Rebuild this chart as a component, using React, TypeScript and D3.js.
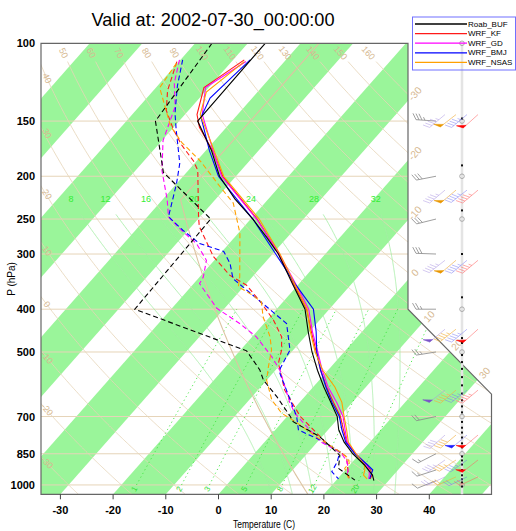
import React from 'react';
import * as d3 from 'd3';

// ---- Roab (observed) sounding, hPa / deg C ----
const roabP = [100, 150, 175, 200, 225, 250, 275, 300, 350, 400, 450, 500, 550, 600, 650, 700, 750, 800, 850, 900, 950, 978];
const roabT = [-66.7, -66.5, -58.9, -53.1, -46.4, -39.6, -33.9, -28.9, -21.3, -14.6, -10.2, -6.1, -2.0, 2.0, 5.9, 9.5, 12.0, 15.1, 18.7, 22.7, 26.0, 27.2];
const roabTdP = [100, 150, 196, 250, 400, 497, 549, 579, 631, 700, 719, 778, 857, 917, 975];
const roabTd = [-76.8, -74.5, -64.4, -47.6, -46.9, -18.7, -13.0, -10.6, -5.3, 0.6, 2.0, 9.6, 16.5, 18.4, 23.5];

// ---- model temperatures: upper part per model, lower part on shared levels ----
const modelLowP = [175, 200, 250, 300, 350, 400, 450, 500, 550, 600, 650, 700, 750, 800, 850, 900, 925, 950, 969];
const kfTopP = [109, 126, 145, 155];
const kfTopT = [-67.9, -70.9, -67.7, -65.1];
const kfLowT = [-58.7, -52.5, -38.8, -28.8, -21.1, -14.3, -9.6, -5.3, -1.4, 2.5, 6.4, 10.1, 12.9, 15.6, 19.2, 23.2, 24.8, 25.9, 26.2];
const gdTopP = [110, 126, 145];
const gdTopT = [-67.3, -70.6, -66.7];
const gdLowT = [-58.6, -52.7, -38.9, -28.7, -20.7, -13.9, -9.4, -5.0, -1.1, 2.8, 7.0, 10.6, 13.2, 15.7, 19.3, 23.1, 24.5, 25.4, 25.9];
const bmjTopP = [109, 133, 147];
const bmjTopT = [-66.8, -68.0, -66.5];
const bmjLowT = [-59.3, -53.3, -39.6, -29.4, -20.8, -13.0, -8.7, -5.2, -1.4, 2.4, 6.1, 9.9, 12.6, 15.4, 19.1, 23.3, 25.2, 25.7, 26.1];
const nsasTopP = [110, 129, 145];
const nsasTopT = [-67.6, -69.7, -67.1];
const nsasLowT = [-58.4, -52.3, -38.4, -28.6, -20.9, -14.2, -9.8, -5.5, -1.0, 4.1, 8.0, 10.8, 13.5, 15.9, 19.3, 22.7, 23.7, 24.3, 25.6];

// ---- model dew points ----
const kfTdP = [110, 128, 142, 157, 170, 185, 194, 247, 260, 304, 335, 353, 388, 423, 462, 495, 530, 610, 700, 805, 863, 941, 966];
const kfTd = [-80.4, -77.3, -74.2, -69.6, -65.5, -60.5, -58.2, -50.3, -48.5, -40.8, -34.6, -29.7, -23.8, -18.8, -14.4, -12.2, -10.6, -4.9, 2.5, 12.0, 18.0, 21.1, 22.1];
const nsasTdP = [111, 126, 154, 168, 185, 211, 230, 269, 338, 356, 371, 385, 416, 462, 495, 540, 579, 642, 688, 719, 784, 841, 870, 893, 917, 966];
const nsasTd = [-80.2, -79.3, -70.8, -65.8, -59.2, -51.3, -46.0, -39.7, -32.4, -31.0, -27.1, -24.1, -21.3, -16.6, -14.1, -11.9, -10.0, -5.7, -1.6, 2.4, 9.6, 15.9, 18.6, 19.6, 19.6, 22.0];
const bmjTdP = [109, 125, 144, 157, 187, 208, 247, 265, 284, 296, 315, 341, 398, 431, 495, 544, 559, 653, 700, 751, 791, 841, 887, 933, 969];
const bmjTd = [-79.6, -76.2, -72.1, -69.1, -62.8, -60.0, -56.0, -51.0, -45.6, -39.7, -36.5, -33.4, -21.7, -15.7, -10.6, -9.4, -8.6, -1.4, 1.8, 4.4, 10.2, 15.9, 17.1, 17.7, 20.2];
const gdTdP = [109, 123, 139, 166, 194, 226, 247, 265, 284, 310, 338, 350, 398, 431, 462, 512, 549, 579, 653, 688, 798, 848, 886, 917, 958];
const gdTd = [-80.2, -77.3, -73.2, -69.8, -65.0, -59.1, -56.0, -51.3, -46.2, -41.5, -39.3, -38.9, -31.5, -24.6, -19.2, -13.0, -9.2, -6.9, -1.7, 0.9, 10.5, 16.5, 18.9, 20.3, 21.4];

// ---- winds ----
const roabWindP = [150, 200, 250, 300, 400, 500, 700, 850, 925, 978];
const roabWindDir = [274, 259, 256, 272, 270, 261, 258, 243, 252, 248];
const roabWindSpd = [35, 30, 30, 30, 25, 25, 20, 15, 15, 10];
const modelWindP = [145, 215, 310, 444, 610, 771, 878, 959];
const gdWindDir = [230, 230, 232, 230, 232, 228, 235, 245];
const gdWindSpd = [45, 45, 45, 50, 50, 40, 35, 20];
const nsasWindDir = [232, 230, 230, 232, 230, 230, 236, 246];
const nsasWindSpd = [50, 50, 50, 45, 45, 40, 35, 20];
const bmjWindDir = [230, 232, 230, 230, 232, 230, 234, 244];
const bmjWindSpd = [45, 45, 45, 45, 45, 50, 35, 20];
const kfWindDir = [228, 230, 230, 228, 230, 230, 232, 245];
const kfWindSpd = [50, 45, 45, 50, 45, 50, 50, 20];
const levelDotP = [148, 189, 239, 300, 376, 465, 477, 508, 527, 546, 570, 595, 621, 643, 664, 685, 720, 742, 761, 781, 805, 822, 862, 880, 899, 925, 951, 971, 987, 1008];
const levelRingP = [100, 150, 200, 250, 400, 500, 700, 850, 1000];

// ---- background ----
const pTicks = [100, 150, 200, 250, 300, 400, 500, 700, 850, 1000];
const tTicks = [-30, -20, -10, 0, 10, 20, 30, 40];
const dryThetas = d3.range(-30, 161, 10);
const moistThetaW = [8, 12, 16, 20, 24, 28, 32];
const mixRatios = [1, 2, 3, 5, 8, 12, 20];
const isoLabels = [-30, -20, -10, 0, 10, 20, 30];

const legendNames = ['Roab_BUF', 'WRF_KF', 'WRF_GD', 'WRF_BMJ', 'WRF_NSAS'];
const legendColors = ['#000000', '#ff1a1a', '#ff00ff', '#0000ff', '#ffa000'];

const Y0 = 43.3, Y1 = 494.3;
const yS = d3.scaleLog().domain([100, 1050]).range([Y0, Y1]);
const tS = d3.scaleLinear().domain([-30, 40]).range([60.4, 429.3]);
const SKEW = 0.883;
const xOf = (t: number, p: number) => tS(t) + SKEW * (Y1 - yS(p));

const XL = 41, XR = 408, XR2 = 491.5;
const yDiagTop = yS(400), yDiagBot = yS(623);
const frame: [number, number][] = [[XL, Y0], [XR, Y0], [XR, yDiagTop], [XR2, yDiagBot], [XR2, Y1], [XL, Y1]];

const sLine = d3.line<[number, number]>().x(d => xOf(d[1], d[0])).y(d => yS(d[0]));
const zip = (p: number[], t: number[]) => p.map((v, i) => [v, t[i]] as [number, number]);

const dryT = (th: number, p: number) => (th + 273.15) * Math.pow(p / 1000, 0.2857) - 273.15;
const stdT = (p: number) => (p > 226.32 ? 288.15 * Math.pow(p / 1013.25, 0.190263) - 273.15 : -56.5);
const mixTd = (w: number, p: number) => {
  const e = (w * p) / (622 + w);
  const l = Math.log(e / 6.112);
  return (243.5 * l) / (17.67 - l);
};
const dTdp = (T: number, p: number) => {
  const tc = T - 273.15;
  const es = 6.112 * Math.exp((17.67 * tc) / (tc + 243.5));
  const rs = (0.622 * es) / (p - es);
  const Lv = 2.501e6, Rd = 287.04, Cp = 1005.7;
  return ((Rd * T + Lv * rs) / p) / (Cp + (Lv * Lv * rs * 0.622) / (Rd * T * T));
};
const moistCurve = (tw: number) => {
  const up: [number, number][] = [];
  let T = tw + 273.15;
  for (let p = 1000; p >= 220; p -= 2) {
    up.push([p, T - 273.15]);
    const k1 = dTdp(T, p);
    const k2 = dTdp(T - 2 * k1, p - 2);
    T -= (k1 + k2);
  }
  const down: [number, number][] = [];
  T = tw + 273.15;
  for (let p = 1000; p <= 1050; p += 2) {
    const k1 = dTdp(T, p);
    const k2 = dTdp(T + 2 * k1, p + 2);
    T += (k1 + k2);
    down.push([p + 2, T - 273.15]);
  }
  return down.reverse().concat(up);
};

const TAN = '#e6d4b8';
const TANTXT = '#d6b890';

function barb(x: number, y: number, dir: number, spd: number) {
  const L = 20;
  const a = (dir * Math.PI) / 180;
  const dx = Math.sin(a), dy = -Math.cos(a);
  const nx = -dy, ny = dx;
  const fx = 0.87 * nx + 0.5 * dx, fy = 0.87 * ny + 0.5 * dy;
  const tx = x + dx * L, ty = y + dy * L;
  let lines = `M${x},${y}L${tx},${ty}`;
  let tris = '';
  let s = Math.round(spd / 5) * 5;
  let pos = 0;
  while (s >= 50) {
    const bx = tx - dx * pos, by = ty - dy * pos;
    const ex = tx - dx * (pos + 4), ey = ty - dy * (pos + 4);
    tris += `M${bx},${by}L${bx + fx * 7},${by + fy * 7}L${ex},${ey}Z`;
    pos += 5;
    s -= 50;
  }
  while (s >= 10) {
    const bx = tx - dx * pos, by = ty - dy * pos;
    lines += `M${bx},${by}L${bx + fx * 7},${by + fy * 7}`;
    pos += 3;
    s -= 10;
  }
  if (s >= 5) {
    const bx = tx - dx * pos, by = ty - dy * pos;
    lines += `M${bx},${by}L${bx + fx * 3.5},${by + fy * 3.5}`;
  }
  return { lines, tris };
}

function Barbs({ px, ps, dirs, spds, line, fill, op }: { px: number; ps: number[]; dirs: number[]; spds: number[]; line: string; fill: string; op: number }) {
  return (
    <g>
      {ps.map((p, i) => {
        const b = barb(px, yS(p), dirs[i], spds[i]);
        return (
          <g key={i}>
            <path d={b.lines} stroke={line} strokeOpacity={op} strokeWidth={0.9} fill="none" />
            {b.tris && <path d={b.tris} fill={fill} stroke={fill} strokeWidth={0.5} />}
          </g>
        );
      })}
    </g>
  );
}

const labelAngle = (f: (p: number) => number, p: number) => {
  const p2 = p * 1.04;
  return (Math.atan2(yS(p2) - yS(p), xOf(f(p2), p2) - xOf(f(p), p)) * 180) / Math.PI;
};

export default function App() {
  const pts = frame.map(d => d.join(',')).join(' ');
  const dryPs = d3.range(1050, 109, -5);
  const topP = yS.invert(53);
  const isoAngle = (Math.atan2(-1, SKEW) * 180) / Math.PI;

  const isoPos = (t: number) => {
    let y = Y1 - (XR - tS(t)) / SKEW;
    let x = XR;
    if (y > yDiagTop) {
      const k = (XR2 - XR) / (yDiagBot - yDiagTop);
      y = (tS(t) + SKEW * Y1 - XR + k * yDiagTop) / (SKEW + k);
      x = XR + k * (y - yDiagTop);
    }
    return [x + 7, y - 7];
  };

  const series = [
    { c: legendColors[1], t: zip(kfTopP.concat(modelLowP), kfTopT.concat(kfLowT)), d: zip(kfTdP, kfTd) },
    { c: legendColors[2], t: zip(gdTopP.concat(modelLowP), gdTopT.concat(gdLowT)), d: zip(gdTdP, gdTd) },
    { c: legendColors[3], t: zip(bmjTopP.concat(modelLowP), bmjTopT.concat(bmjLowT)), d: zip(bmjTdP, bmjTd) },
    { c: legendColors[4], t: zip(nsasTopP.concat(modelLowP), nsasTopT.concat(nsasLowT)), d: zip(nsasTdP, nsasTd) },
    { c: legendColors[0], t: zip(roabP, roabT), d: zip(roabTdP, roabTd) },
  ];

  return (
    <svg width={516} height={531} style={{ position: 'absolute', left: 0, top: 0 }} fontFamily="Helvetica, Arial, 'Liberation Sans', sans-serif">
      <defs>
        <clipPath id="plotClip">
          <polygon points={pts} />
        </clipPath>
      </defs>
      <rect width={516} height={531} fill="#fff" />

      <text x={213} y={26} fontSize={19} textAnchor="middle" textLength={243} lengthAdjust="spacingAndGlyphs">Valid at: 2002-07-30_00:00:00</text>

      <g clipPath="url(#plotClip)">
        {d3.range(-120, 60, 20).map(t0 => (
          <polygon key={t0} fill="#9af59a"
            points={[[xOf(t0, 1050), Y1], [xOf(t0 + 10, 1050), Y1], [xOf(t0 + 10, 100), Y0], [xOf(t0, 100), Y0]].map(d => d.join(',')).join(' ')} />
        ))}
        {pTicks.slice(1).map(p => (
          <line key={p} x1={XL} x2={XR2} y1={yS(p)} y2={yS(p)} stroke={TAN} strokeWidth={1} />
        ))}
        {dryThetas.map(th => (
          <path key={th} d={sLine(dryPs.map(p => [p, dryT(th, p)] as [number, number])) || ''} fill="none" stroke={TAN} strokeWidth={0.8} />
        ))}
        {moistThetaW.map(tw => (
          <path key={tw} d={sLine(moistCurve(tw).filter(d => d[0] >= 244)) || ''} fill="none" stroke="#a4eea4" strokeWidth={0.8} />
        ))}
        {mixRatios.map(w => (
          <path key={w} d={sLine(d3.range(1000, 399, -10).map(p => [p, mixTd(w, p)] as [number, number])) || ''} fill="none" stroke="#3ee63e" strokeWidth={0.9} strokeDasharray="1.2,3" />
        ))}
        <path d={sLine(d3.range(1050, 226, -5).concat([226.32, 100]).map(p => [p, stdT(p)] as [number, number])) || ''} fill="none" stroke="#dcc4a2" strokeWidth={1.1} />
      </g>

      {/* dry adiabat labels */}
      {dryThetas.filter(th => th >= 50).map(th => {
        const x = xOf(dryT(th, topP), topP);
        const ang = labelAngle(p => dryT(th, p), topP);
        return <text key={th} x={x} y={53} fontSize={9} fill={TANTXT} textAnchor="middle" dominantBaseline="central" transform={`rotate(${ang},${x},53)`}>{th}</text>;
      })}
      {dryThetas.filter(th => th <= 40).map(th => {
        const pc = dryPs.find(p => xOf(dryT(th, p), p) < 47);
        if (!pc) return null;
        const y = yS(pc);
        const ang = labelAngle(p => dryT(th, p), pc);
        return <text key={th} x={47} y={y} fontSize={9} fill={TANTXT} textAnchor="middle" dominantBaseline="central" transform={`rotate(${ang},47,${y})`}>{th}</text>;
      })}
      {isoLabels.map(t => {
        const [x, y] = isoPos(t);
        return <text key={t} x={x} y={y} fontSize={10} fill={TANTXT} textAnchor="middle" dominantBaseline="central" transform={`rotate(${isoAngle},${x},${y})`}>{t}</text>;
      })}
      {moistThetaW.map(tw => {
        const c = moistCurve(tw);
        const d = c.reduce((a, b) => (Math.abs(b[0] - 225) < Math.abs(a[0] - 225) ? b : a));
        return <text key={tw} x={xOf(d[1], d[0])} y={yS(225)} fontSize={9} fill="#33ee33" textAnchor="middle" dominantBaseline="central">{tw}</text>;
      })}
      {mixRatios.map(w => {
        const x = xOf(mixTd(w, 1010), 1010) - 1;
        return <text key={w} x={x} y={489} fontSize={8} fill="#33dd33" textAnchor="middle" dominantBaseline="central" transform={`rotate(-60,${x},489)`}>{w}</text>;
      })}

      {/* soundings */}
      {series.map((s, i) => (
        <g key={i}>
          <path d={sLine(s.d) || ''} fill="none" stroke={s.c} strokeWidth={1.1} strokeDasharray="5,3" />
          <path d={sLine(s.t) || ''} fill="none" stroke={s.c} strokeWidth={1.1} />
        </g>
      ))}

      <polygon points={pts} fill="none" stroke="#666" strokeWidth={1.2} />

      {/* axes */}
      {pTicks.map(p => (
        <text key={p} x={35} y={yS(p)} fontSize={11} fontWeight="bold" textAnchor="end" dominantBaseline="central">{p}</text>
      ))}
      {tTicks.map(t => (
        <g key={t}>
          <line x1={tS(t)} x2={tS(t)} y1={Y1} y2={Y1 + 5} stroke="#444" />
          <text x={tS(t)} y={514} fontSize={11} fontWeight="bold" textAnchor="middle">{t}</text>
        </g>
      ))}
      <text x={264} y={528} fontSize={10} textAnchor="middle" textLength={62} lengthAdjust="spacingAndGlyphs">Temperature (C)</text>
      <text x={0} y={0} fontSize={10} textAnchor="middle" transform="translate(15,279) rotate(-90)">P (hPa)</text>

      {/* wind column */}
      <line x1={462} x2={462} y1={Y0} y2={Y1} stroke="#e4e4e4" strokeWidth={2.5} />
      {levelRingP.map(p => <circle key={p} cx={462} cy={yS(p)} r={2.3} fill="none" stroke="#999" strokeWidth={0.8} />)}
      {levelDotP.map(p => <rect key={p} x={461} y={yS(p) - 1} width={2} height={2} fill="#111" />)}
      <Barbs px={436} ps={roabWindP} dirs={roabWindDir} spds={roabWindSpd} line="#888" fill="#888" op={0.9} />
      <Barbs px={445} ps={modelWindP} dirs={gdWindDir} spds={gdWindSpd} line="#a890e0" fill="#7a55c8" op={0.55} />
      <Barbs px={456} ps={modelWindP} dirs={nsasWindDir} spds={nsasWindSpd} line="#f0b040" fill="#e89600" op={0.7} />
      <Barbs px={467} ps={modelWindP} dirs={bmjWindDir} spds={bmjWindSpd} line="#7878f0" fill="#1a1aff" op={0.55} />
      <Barbs px={478} ps={modelWindP} dirs={kfWindDir} spds={kfWindSpd} line="#ff6060" fill="#ff0000" op={0.6} />

      {/* legend */}
      <rect x={412.5} y={17} width={103} height={53} fill="none" stroke="#7070ff" strokeWidth={1} />
      {legendNames.map((n, i) => {
        const y = 24 + i * 9.6;
        return (
          <g key={n}>
            <line x1={415} x2={467} y1={y} y2={y} stroke={legendColors[i]} strokeWidth={1.3} />
            <text x={468} y={y} fontSize={8} dominantBaseline="central">{n}</text>
          </g>
        );
      })}
    </svg>
  );
}
